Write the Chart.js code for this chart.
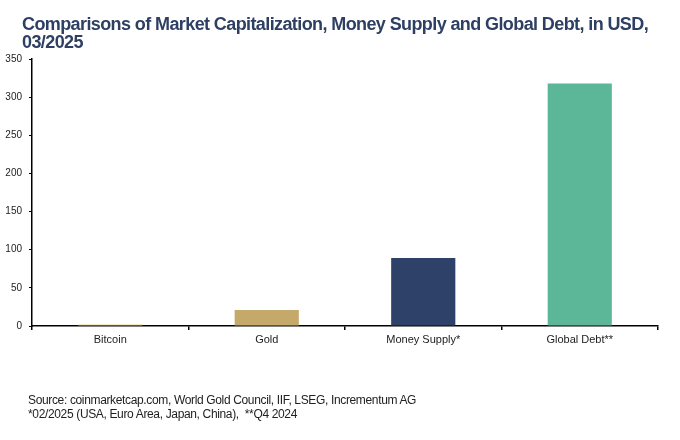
<!DOCTYPE html>
<html><head><meta charset="utf-8">
<script src="https://cdn.jsdelivr.net/npm/chart.js@4"></script>
<style>
html,body{margin:0;padding:0;background:#fff;}
#wrap{position:relative;width:680px;height:440px;overflow:hidden;}
#title{position:absolute;left:22px;top:15px;font-family:"Liberation Sans",Arial,sans-serif;font-weight:bold;font-size:18px;line-height:18px;color:#2E3F64;letter-spacing:-0.6px;white-space:nowrap;}
#foot{position:absolute;left:28px;top:394px;font-family:"Liberation Sans",Arial,sans-serif;font-size:12px;line-height:13.5px;color:#222;letter-spacing:-0.35px;white-space:nowrap;}
canvas{position:absolute;left:0;top:0;}
</style></head>
<body><div id="wrap">
<canvas id="c" width="680" height="440"></canvas>
<div id="title">Comparisons of Market Capitalization, Money Supply and Global Debt, in USD,<br>03/2025</div>
<div id="foot">Source: coinmarketcap.com, World Gold Council, IIF, LSEG, Incrementum AG<br>*02/2025 (USA, Euro Area, Japan, China),&nbsp;&nbsp;**Q4 2024</div>
</div>
<script>
const categories = ["Bitcoin", "Gold", "Money Supply*", "Global Debt**"];
const values = [1.7, 21, 89, 318];
const barColors = ["#E8A317", "#C4A96B", "#2E4169", "#5BB798"];
const yTicks = [0, 50, 100, 150, 200, 250, 300, 350];

new Chart(document.getElementById('c'), {
  type: 'bar',
  data: {
    labels: categories,
    datasets: [{
      data: values,
      backgroundColor: barColors,
      borderWidth: 0,
      categoryPercentage: 1.0,
      barPercentage: 0.41
    }]
  },
  options: {
    responsive: false,
    animation: false,
    devicePixelRatio: 1,
    layout: { padding: { left: 0, right: 22, top: 59, bottom: 92 } },
    plugins: { legend: { display: false }, title: { display: false }, tooltip: { enabled: false } },
    scales: {
      x: {
        grid: { display: true, offset: true, drawOnChartArea: false, drawTicks: true, tickLength: 4, color: '#000', lineWidth: 1.5 },
        border: { display: true, color: '#000', width: 1.5 },
        ticks: { color: '#222', font: { family: '"Liberation Sans", Arial, sans-serif', size: 11 }, padding: 3, maxRotation: 0 },
        afterFit: s => { s.height = 22; }
      },
      y: {
        min: 0, max: 350,
        afterBuildTicks: s => { s.ticks = yTicks.map(v => ({ value: v })); },
        grid: { display: true, drawOnChartArea: false, drawTicks: true, tickLength: 3, color: '#000', lineWidth: 1 },
        border: { display: true, color: '#000', width: 1.5 },
        ticks: { color: '#222', font: { family: '"Liberation Sans Narrow", "Liberation Sans", Arial, sans-serif', size: 10 }, padding: 7 },
        afterFit: s => { s.width = 32; }
      }
    }
  }
});
</script>
</body></html>
